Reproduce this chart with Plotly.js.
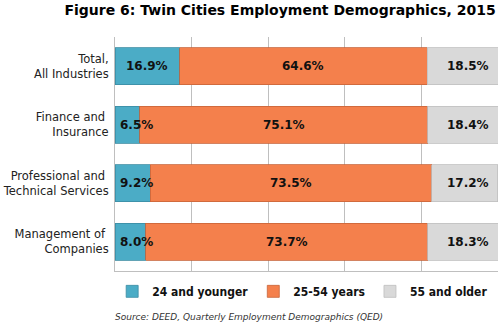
<!DOCTYPE html>
<html><head><meta charset="utf-8">
<script src="https://cdn.plot.ly/plotly-3.0.1.min.js"></script>
<style>body{margin:0;padding:0;background:#fff}#chart{width:499px;height:322px}</style>
</head><body><div id="chart"></div>
<script>
const categories = ["Total,<br>All Industries", "Finance and <br>Insurance", "Professional and <br>Technical Services", "Management of <br>Companies"];
const young = [16.9, 6.5, 9.2, 8.0];
const prime = [64.6, 75.1, 73.5, 73.7];
const older = [18.5, 18.4, 17.2, 18.3];
const seriesNames = ["24 and younger", "25-54 years", "55 and older"];

const colors = ["#4BACC6", "#F4804C", "#D9D9D9"];
const lineColors = ["#3B8CA3", "#C8643A", "#BFBFBF"];
const series = [young, prime, older];

const traces = series.map((vals, i) => ({
  type: "bar", orientation: "h", name: seriesNames[i],
  y: categories, x: vals,
  marker: {color: colors[i], line: {color: lineColors[i], width: 0.8}},
  hoverinfo: "skip"
}));

const font = "DejaVu Sans, Verdana, sans-serif";
const annotations = [];
const lblFont = {family: font, size: 12, color: "#111", weight: "bold"};
categories.forEach((c, k) => {
  const y0 = young[k];
  if (y0 >= 12) {
    annotations.push({x: y0 / 2, y: c, text: y0.toFixed(1) + "%", showarrow: false, xanchor: "center", font: lblFont});
  } else {
    annotations.push({x: 0, y: c, text: y0.toFixed(1) + "%", showarrow: false, xanchor: "left", xshift: 3, font: lblFont});
  }
  annotations.push({x: young[k] + prime[k] / 2, y: c, text: prime[k].toFixed(1) + "%", showarrow: false, xanchor: "center", font: lblFont});
  annotations.push({x: 100, y: c, text: older[k].toFixed(1) + "%", showarrow: false, xanchor: "right", xshift: -7, font: lblFont});
});
annotations.push({xref: "paper", yref: "paper", x: 0.351, y: -0.165, yanchor: "top", xanchor: "center",
  text: "<i>Source: DEED, Quarterly Employment Demographics (QED)</i>", showarrow: false,
  font: {family: font, size: 9, color: "#333"}});

const layout = {
  width: 499, height: 322,
  margin: {l: 115, r: 1, t: 37, b: 51},
  barmode: "stack", bargap: 0.37,
  paper_bgcolor: "#fff", plot_bgcolor: "#fff",
  title: {text: "<b>Figure 6: Twin Cities Employment Demographics, 2015</b>", x: 0.994, xanchor: "right", xref: "paper", y: 0.968, yanchor: "middle",
    font: {family: font, size: 14, color: "#000"}},
  xaxis: {range: [0, 100], dtick: 20, tick0: 0, showticklabels: false, showgrid: true, gridcolor: "#BFBFBF", gridwidth: 1,
    zeroline: false, showline: true, linecolor: "#BFBFBF", linewidth: 1, ticks: "", fixedrange: true},
  yaxis: {autorange: "reversed", showline: true, linecolor: "#BFBFBF", linewidth: 1, ticks: "", ticklabelstandoff: 3,
    tickfont: {family: font, size: 11.5, color: "#222"}, fixedrange: true},
  legend: {orientation: "h", x: 0.49, xanchor: "center", y: -0.025, yanchor: "top",
    font: {family: "DejaVu Sans Condensed, Liberation Sans Narrow, DejaVu Sans, sans-serif", size: 12, color: "#111", weight: "bold"},
    itemwidth: 30, traceorder: "normal", tracegroupgap: 0},
  annotations: annotations,
  showlegend: true
};
Plotly.newPlot("chart", traces, layout, {displayModeBar: false, staticPlot: true});
</script></body></html>
